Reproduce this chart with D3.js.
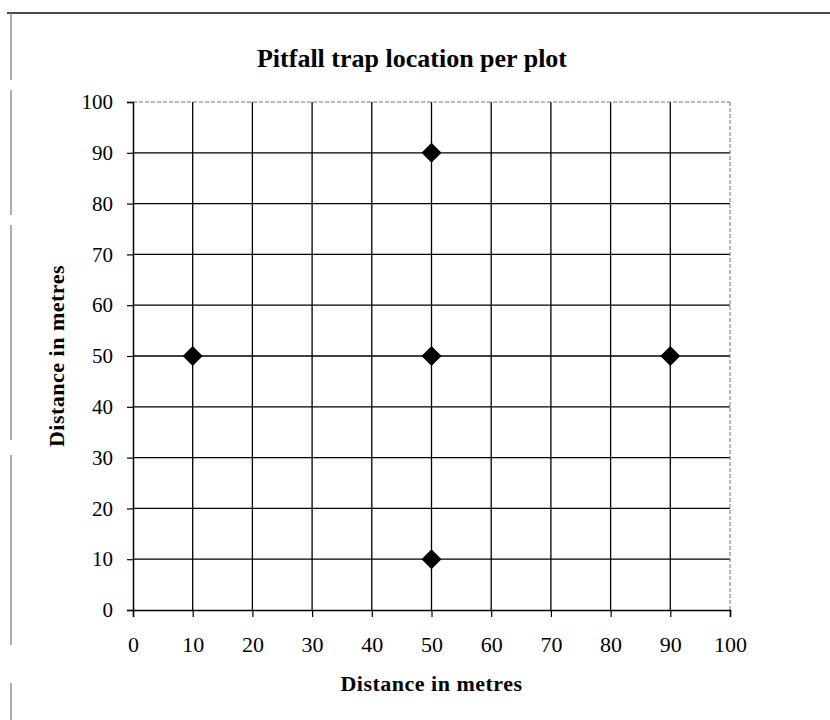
<!DOCTYPE html>
<html>
<head>
<meta charset="utf-8">
<script src="https://cdnjs.cloudflare.com/ajax/libs/d3/7.8.5/d3.min.js"></script>
<style>
  body { margin: 0; background: #fff; }
  svg { display: block; }
</style>
</head>
<body>
<div id="chart"></div>
<script>
// chart data
var trapX = [10, 50, 50, 90, 50];
var trapY = [50, 90, 50, 50, 10];
var xTicks = [0, 10, 20, 30, 40, 50, 60, 70, 80, 90, 100];
var yTicks = [0, 10, 20, 30, 40, 50, 60, 70, 80, 90, 100];
var chartTitle = "Pitfall trap location per plot";
var xTitle = "Distance in metres";
var yTitle = "Distance in metres";

var width = 830;
var height = 720;
var margin = {left: 133, right: 100, top: 102, bottom: 110};
var serif = "'Liberation Serif', 'DejaVu Serif', serif";

var svg = d3.select("#chart")
	.append("svg")
	.attr("width", width)
	.attr("height", height)
	.style("background-color", "white");

// page frame (top and left edges of the scanned box)
svg.append("line")
	.attr("x1", 7).attr("x2", width)
	.attr("y1", 13).attr("y2", 13)
	.style("stroke", "#111").style("stroke-width", 1.5);

var frameSegs = [[13, 80], [90, 215], [225, 440], [455, 645], [683, 720]];
svg.selectAll(".frameSeg")
	.data(frameSegs)
	.enter()
	.append("line")
	.attr("class", "frameSeg")
	.attr("x1", 11).attr("x2", 11)
	.attr("y1", function(d) { return d[0]; })
	.attr("y2", function(d) { return d[1]; })
	.style("stroke", "#777").style("stroke-width", 1.2);

var x = d3.scaleLinear()
	.domain([0, 100])
	.range([margin.left, width - margin.right]);

var y = d3.scaleLinear()
	.domain([0, 100])
	.range([height - margin.bottom, margin.top]);

// gridlines
svg.selectAll(".vgrid")
	.data(xTicks.filter(function(d) { return d > 0 && d < 100; }))
	.enter()
	.append("line")
	.attr("class", "vgrid")
	.attr("x1", function(d) { return x(d); })
	.attr("x2", function(d) { return x(d); })
	.attr("y1", y(100)).attr("y2", y(0))
	.style("stroke", "#000").style("stroke-width", 1.3);

svg.selectAll(".hgrid")
	.data(yTicks.filter(function(d) { return d > 0 && d < 100; }))
	.enter()
	.append("line")
	.attr("class", "hgrid")
	.attr("x1", x(0)).attr("x2", x(100))
	.attr("y1", function(d) { return y(d); })
	.attr("y2", function(d) { return y(d); })
	.style("stroke", "#000").style("stroke-width", 1.3);

// plot area border, top and right are faint
svg.append("line")
	.attr("x1", x(0)).attr("x2", x(100))
	.attr("y1", y(100)).attr("y2", y(100))
	.style("stroke", "#777").style("stroke-width", 1)
	.style("stroke-dasharray", "4,2");
svg.append("line")
	.attr("x1", x(100)).attr("x2", x(100))
	.attr("y1", y(100)).attr("y2", y(0))
	.style("stroke", "#777").style("stroke-width", 1)
	.style("stroke-dasharray", "4,2");

// axes
var xAxis = d3.axisBottom(x)
	.tickValues(xTicks)
	.tickSize(7)
	.tickPadding(19);

var yAxis = d3.axisLeft(y)
	.tickValues(yTicks)
	.tickSize(6)
	.tickPadding(14);

var gx = svg.append("g")
	.attr("transform", "translate(0," + y(0) + ")")
	.call(xAxis);

var gy = svg.append("g")
	.attr("transform", "translate(" + x(0) + ",0)")
	.call(yAxis);

[gx, gy].forEach(function(g) {
	g.select(".domain").style("stroke", "#000").style("stroke-width", 1.5);
	g.selectAll(".tick line").style("stroke", "#000").style("stroke-width", 1.2);
	g.selectAll(".tick text")
		.style("font-family", serif)
		.style("font-size", "21px")
		.style("fill", "#000");
});
gx.selectAll(".tick text").style("font-size", "22px");

// trap markers
var diamond = d3.symbol().type(d3.symbolSquare).size(200);

svg.selectAll(".trap")
	.data(trapX.map(function(d, i) { return [d, trapY[i]]; }))
	.enter()
	.append("path")
	.attr("class", "trap")
	.attr("d", diamond)
	.attr("transform", function(d) {
		return "translate(" + x(d[0]) + "," + y(d[1]) + ") rotate(45)";
	})
	.style("fill", "#000");

// titles
svg.append("text")
	.attr("x", 412)
	.attr("y", 67)
	.attr("text-anchor", "middle")
	.style("font-family", serif)
	.style("font-weight", "bold")
	.style("font-size", "26px")
	.text(chartTitle);

svg.append("text")
	.attr("x", (x(0) + x(100)) / 2)
	.attr("y", 691)
	.attr("text-anchor", "middle")
	.style("font-family", serif)
	.style("font-weight", "bold")
	.style("font-size", "22px")
	.style("letter-spacing", "0.5px")
	.text(xTitle);

svg.append("text")
	.attr("transform", "translate(64," + (y(0) + y(100)) / 2 + ") rotate(-90)")
	.attr("text-anchor", "middle")
	.style("font-family", serif)
	.style("font-weight", "bold")
	.style("font-size", "22px")
	.style("letter-spacing", "0.5px")
	.text(yTitle);
</script>
</body>
</html>
